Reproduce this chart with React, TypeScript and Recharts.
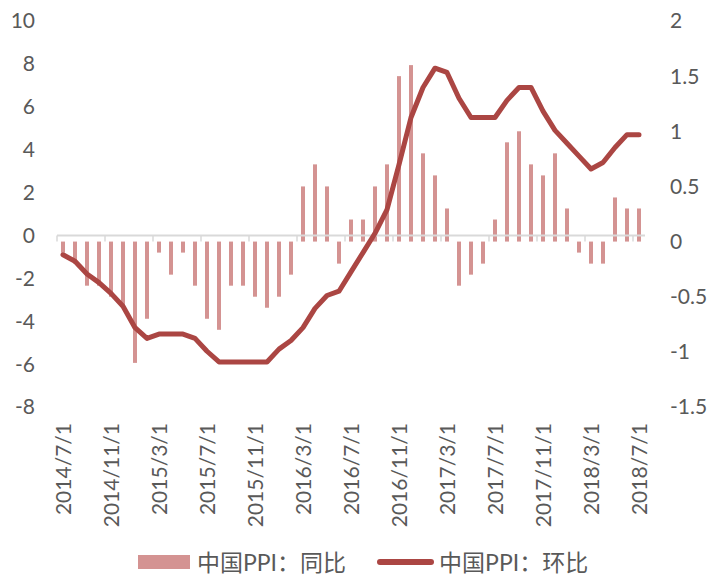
import { Bar, ComposedChart, Legend, Line, ReferenceLine, XAxis, YAxis } from 'recharts'

const months = [
  '2014/7/1', '2014/8/1', '2014/9/1', '2014/10/1', '2014/11/1', '2014/12/1',
  '2015/1/1', '2015/2/1', '2015/3/1', '2015/4/1', '2015/5/1', '2015/6/1',
  '2015/7/1', '2015/8/1', '2015/9/1', '2015/10/1', '2015/11/1', '2015/12/1',
  '2016/1/1', '2016/2/1', '2016/3/1', '2016/4/1', '2016/5/1', '2016/6/1',
  '2016/7/1', '2016/8/1', '2016/9/1', '2016/10/1', '2016/11/1', '2016/12/1',
  '2017/1/1', '2017/2/1', '2017/3/1', '2017/4/1', '2017/5/1', '2017/6/1',
  '2017/7/1', '2017/8/1', '2017/9/1', '2017/10/1', '2017/11/1', '2017/12/1',
  '2018/1/1', '2018/2/1', '2018/3/1', '2018/4/1', '2018/5/1', '2018/6/1',
  '2018/7/1',
]

// bars, right axis
const ppiMoM = [
  -0.1, -0.2, -0.4, -0.4, -0.5, -0.6,
  -1.1, -0.7, -0.1, -0.3, -0.1, -0.4,
  -0.7, -0.8, -0.4, -0.4, -0.5, -0.6,
  -0.5, -0.3, 0.5, 0.7, 0.5, -0.2,
  0.2, 0.2, 0.5, 0.7, 1.5, 1.6,
  0.8, 0.6, 0.3, -0.4, -0.3, -0.2,
  0.2, 0.9, 1.0, 0.7, 0.6, 0.8,
  0.3, -0.1, -0.2, -0.2, 0.4, 0.3,
  0.3,
]

// line, left axis
const ppiYoY = [
  -0.9, -1.2, -1.8, -2.2, -2.7, -3.3,
  -4.3, -4.8, -4.6, -4.6, -4.6, -4.8,
  -5.4, -5.9, -5.9, -5.9, -5.9, -5.9,
  -5.3, -4.9, -4.3, -3.4, -2.8, -2.6,
  -1.7, -0.8, 0.1, 1.2, 3.3, 5.5,
  6.9, 7.8, 7.6, 6.4, 5.5, 5.5,
  5.5, 6.3, 6.9, 6.9, 5.8, 4.9,
  4.3, 3.7, 3.1, 3.4, 4.1, 4.7,
  4.7,
]

const leftTicks = [-8, -6, -4, -2, 0, 2, 4, 6, 8, 10]
const rightTicks = [-1.5, -1, -0.5, 0, 0.5, 1, 1.5, 2]
const markMonths = months.filter((_, i) => i % 4 === 0)

const data = months.map((month, i) => ({ month, mom: ppiMoM[i], yoy: ppiYoY[i] }))

const FONT = "Lato, 'Noto Sans CJK SC', sans-serif"
const TEXT = '#595959'
const BAR = '#D49392'
const LINE = '#AB4643'
const AXIS = '#D9D9D9'

function MonthTick({ x, y, payload }: any) {
  return (
    <text
      transform={`translate(${x},${y}) rotate(-90)`}
      textAnchor="end"
      dy="0.36em"
      fill={TEXT}
      fontSize={21}
      fontFamily={FONT}
    >
      {payload.value}
    </text>
  )
}

function ChartLegend() {
  return (
    <div
      style={{
        display: 'flex',
        alignItems: 'center',
        marginTop: 13,
        paddingLeft: 130,
        fontFamily: FONT,
        fontSize: 23,
        lineHeight: '22px',
        color: TEXT,
        whiteSpace: 'nowrap',
      }}
    >
      <span style={{ width: 52, height: 14, background: BAR }} />
      <span style={{ marginLeft: 7 }}>中国PPI：同比</span>
      <span style={{ marginLeft: 31, width: 57, height: 6, borderRadius: 3, background: LINE }} />
      <span style={{ marginLeft: 5 }}>中国PPI：环比</span>
    </div>
  )
}

export default function App() {
  const tickStyle = { fill: TEXT, fontSize: 21, fontFamily: FONT }
  return (
    <div style={{ position: 'absolute', left: 8, top: 8, width: 700, height: 568 }}>
      <ComposedChart
        width={700}
        height={568}
        data={data}
        margin={{ top: 13, right: 0, bottom: 0, left: 0 }}
      >
        <XAxis
          dataKey="month"
          height={131}
          interval={3}
          tick={<MonthTick />}
          tickLine={false}
          axisLine={false}
          tickSize={0}
          tickMargin={16}
        />
        <YAxis
          yAxisId="left"
          domain={[-8, 10]}
          ticks={leftTicks}
          width={49}
          tick={tickStyle}
          tickLine={false}
          axisLine={false}
          tickSize={0}
          tickMargin={22}
        />
        <YAxis
          yAxisId="right"
          orientation="right"
          domain={[-1.5, 2]}
          ticks={rightTicks}
          width={63}
          tick={{ ...tickStyle, textAnchor: 'start' }}
          tickLine={false}
          axisLine={false}
          tickSize={0}
          tickMargin={25}
        />
        <ReferenceLine yAxisId="left" y={0} stroke={AXIS} strokeWidth={2} />
        {markMonths.map((m) => (
          <ReferenceLine
            key={m}
            yAxisId="left"
            position="start"
            segment={[{ x: m, y: 0 }, { x: m, y: -0.28 }]}
            stroke={AXIS}
            strokeWidth={1.5}
          />
        ))}
        <Bar yAxisId="right" dataKey="mom" fill={BAR} barSize={4} isAnimationActive={false} />
        <Line
          yAxisId="left"
          dataKey="yoy"
          type="linear"
          stroke={LINE}
          strokeWidth={5}
          strokeLinecap="round"
          strokeLinejoin="round"
          dot={false}
          isAnimationActive={false}
        />
        <Legend
          verticalAlign="bottom"
          height={38}
          wrapperStyle={{ left: 0, width: 700 }}
          content={() => <ChartLegend />}
        />
      </ComposedChart>
    </div>
  )
}
